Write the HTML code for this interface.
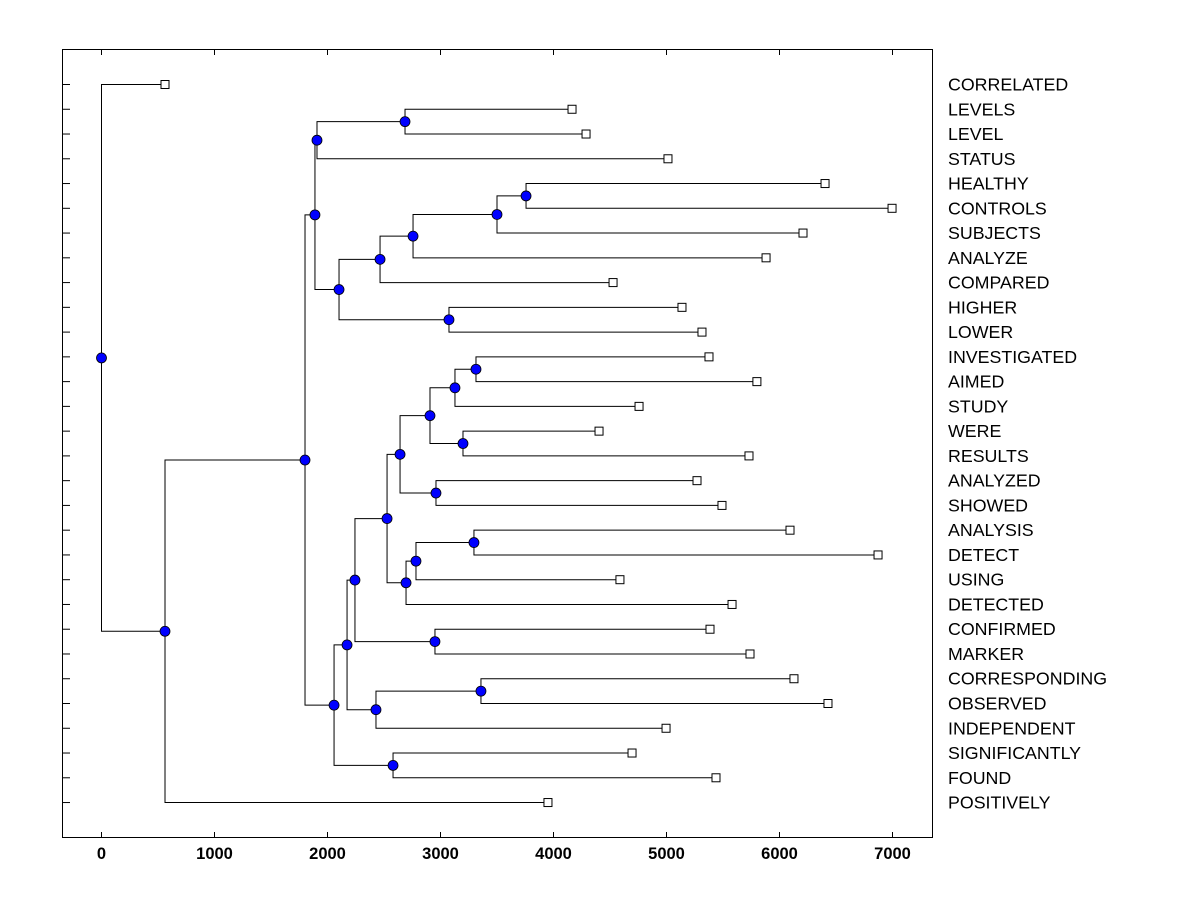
<!DOCTYPE html>
<html><head><meta charset="utf-8"><style>
body{margin:0;background:#fff}
svg{display:block}
text{font-family:"Liberation Sans",Arial,sans-serif}
</style></head><body>
<svg id="chart" width="1200" height="900" xmlns="http://www.w3.org/2000/svg">
<rect x="0" y="0" width="1200" height="900" fill="#fff"/>
<rect x="62.5" y="49.5" width="870" height="788" fill="none" stroke="#000" stroke-width="1"/>
<g id="g"></g>
</svg>
<script>
// Leaf labels (top to bottom) and leaf heights
const leafLabels = ["CORRELATED","LEVELS","LEVEL","STATUS","HEALTHY","CONTROLS","SUBJECTS","ANALYZE","COMPARED","HIGHER","LOWER","INVESTIGATED","AIMED","STUDY","WERE","RESULTS","ANALYZED","SHOWED","ANALYSIS","DETECT","USING","DETECTED","CONFIRMED","MARKER","CORRESPONDING","OBSERVED","INDEPENDENT","SIGNIFICANTLY","FOUND","POSITIVELY"];
const leafValues = [562,4164,4288,5013,6403,6996,6208,5881,4527,5137,5314,5376,5800,4757,4403,5730,5270,5491,6093,6872,4588,5580,5385,5739,6128,6429,4996,4695,5438,3951];
const xTicks = [0,1000,2000,3000,4000,5000,6000,7000];

const X0=101.5, XS=0.113, Y0=84.5, YS=24.76;
const xs = v => X0 + v*XS;
const ys = i => Y0 + i*YS;
const g = document.getElementById('g');
const NS='http://www.w3.org/2000/svg';
function mk(t, a){const e=document.createElementNS(NS,t);for(const k in a)e.setAttribute(k,a[k]);g.appendChild(e);return e;}

// Tree structure: merge heights h, children are leaf indices or subtrees
const tree =
 {h:0,c:[0,{h:562,c:[{h:1801,c:[
   {h:1889,c:[{h:1907,c:[{h:2686,c:[1,2]},3]},
              {h:2102,c:[{h:2465,c:[{h:2757,c:[{h:3500,c:[{h:3757,c:[4,5]},6]},7]},8]},{h:3075,c:[9,10]}]}]},
   {h:2058,c:[{h:2173,c:[{h:2243,c:[{h:2527,c:[{h:2642,c:[{h:2907,c:[{h:3128,c:[{h:3314,c:[11,12]},13]},{h:3199,c:[14,15]}]},{h:2960,c:[16,17]}]},
                                     {h:2695,c:[{h:2783,c:[{h:3296,c:[18,19]},20]},21]}]},
                        {h:2951,c:[22,23]}]},
                {h:2429,c:[{h:3358,c:[24,25]},26]}]},
              {h:2580,c:[27,28]}]}]},29]}]};

const dots=[];
function draw(n){
  if(typeof n==='number') return {x:leafValues[n], y:n};
  const a=draw(n.c[0]), b=draw(n.c[1]);
  const x=xs(n.h);
  const l=mk('path',{d:`M${xs(a.x)},${ys(a.y)}H${x}V${ys(b.y)}H${xs(b.x)}`,fill:'none',stroke:'#000','stroke-width':1});
  
  
  const y=(a.y+b.y)/2;
  dots.push([n.h,y]);
  return {x:n.h,y:y};
}
draw(tree);

leafLabels.forEach((lab,i)=>{
  const t=mk('line',{x1:62.5,x2:70,y1:ys(i),y2:ys(i),stroke:'#000'});
  
  
  const s=mk('rect',{x:xs(leafValues[i])-4,y:ys(i)-4,width:8,height:8,fill:'#fff',stroke:'#000'});
  
  
  const tx=mk('text',{x:948,y:ys(i)+6,'font-size':17.8,fill:'#000'});
  tx.textContent=lab;
  
  
});
dots.forEach(d=>{
  const c=mk('circle',{cx:xs(d[0]),cy:ys(d[1]),r:5,fill:'#0000ff',stroke:'#000','stroke-width':0.8});
  
  
});
xTicks.forEach(v=>{
  const a=mk('line',{x1:xs(v),x2:xs(v),y1:837.5,y2:832,stroke:'#000'});
  
  
  const b=mk('line',{x1:xs(v),x2:xs(v),y1:49.5,y2:55,stroke:'#000'});
  
  
  const t=mk('text',{x:xs(v),y:859,'font-size':16.5,'font-weight':'bold','text-anchor':'middle'});
  t.textContent=v;
  
  
});
</script>
</body></html>
